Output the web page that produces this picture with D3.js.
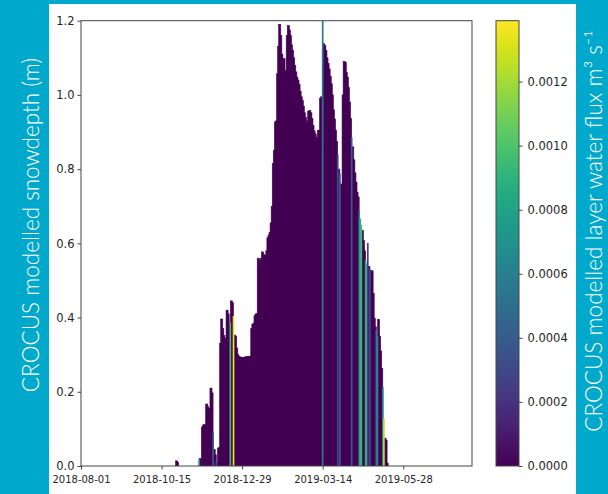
<!DOCTYPE html>
<html><head><meta charset="utf-8">
<script src="https://cdn.jsdelivr.net/npm/d3@7"></script>
<style>body{margin:0;background:#00a8cc;} svg{display:block;}</style>
</head><body>
<svg id="c" width="608" height="494"></svg>
<script>
// ---- data ----
const startDate = "2018-10-29"; // first day of the snow depth series (daily)
const snowDepth = [
 0.014,0.010,0,0,0,0,0,0,0,0,
 0,0,0,0,0,0,0,0,0,0,
 0,0.018,0.020,0,0.105,0.110,0.112,0.108,0.167,0.160,
 0.155,0.150,0.210,0.197,0.090,0.045,0.030,0.012,0.008,0.048,
 0.050,0.330,0.396,0.370,0.352,0.345,0.336,0.420,0.410,0.385,
 0.387,0.445,0.440,0.404,0.353,0.350,0.318,0.300,0.295,0.294,
 0.292,0.292,0.293,0.293,0.294,0.294,0.294,0.295,0.295,0.296,
 0.370,0.382,0.385,0.405,0.410,0.410,0.560,0.555,0.536,0.560,
 0.577,0.570,0.568,0.566,0.580,0.615,0.622,0.630,0.655,0.700,
 0.815,0.850,0.927,0.930,1.057,1.130,1.190,1.160,1.110,1.060,
 1.098,1.066,1.057,1.160,1.187,1.175,1.160,1.135,1.120,1.100,
 1.080,1.062,1.048,1.040,1.028,1.010,0.995,0.985,0.970,0.952,
 0.940,0.930,0.925,0.955,0.958,0.952,0.936,0.918,0.903,0.895,
 0.886,0.880,0.904,0.905,0.990,0.995,1.200,1.138,1.133,1.120,
 1.100,1.085,1.070,1.050,1.030,1.000,0.960,0.935,0.905,0.875,
 0.840,0.800,0.788,0.760,0.752,1.000,1.090,1.088,1.060,1.048,
 1.020,0.981,0.936,0.886,0.860,0.825,0.790,0.765,0.738,0.725,
 0.690,0.667,0.650,0.635,0.608,0.580,0.555,0.545,0.601,0.538,
 0.530,0.526,0.526,0.465,0.398,0.375,0.366,0.350,0.395,0.350,
 0.310,0.263,0.213,0.128,0.075,0.070,0.008
];
// days with non-zero layer water flux (m3 s-1); all other days are 0
const fluxDates = ["2018-11-18","2018-11-19","2018-12-02","2018-12-05","2018-12-18","2018-12-21",
  "2019-03-14","2019-03-28","2019-03-30","2019-04-10","2019-04-17","2019-04-18","2019-04-19",
  "2019-04-23","2019-04-24","2019-04-25","2019-04-27","2019-05-03","2019-05-04","2019-05-09","2019-05-10"];
const fluxValues = [0.0005,0.0007,0.0004,0.0004,0.00095,0.00135,
  0.00055,0.0003,0.0004,0.0004,0.0006,0.0009,0.00095,
  0.0009,0.0009,0.00025,0.0003,0.0006,0.0006,0.0006,0.00125];
const xTickLabels = ["2018-08-01","2018-10-15","2018-12-29","2019-03-14","2019-05-28"];
const yTicks = [0,0.2,0.4,0.6,0.8,1.0,1.2];
const cbTicks = [0,0.0002,0.0004,0.0006,0.0008,0.0010,0.0012];
const xDomain = ["2018-08-01","2019-07-31"];
const yMax = 1.2, fluxMax = 0.00139;
const yLabel = "CROCUS modelled snowdepth (m)";
const cbLabel = "CROCUS modelled layer water flux m³ s⁻¹";

// ---- build ----
const parse = d3.utcParse("%Y-%m-%d");
const fmt = d3.utcFormat("%Y-%m-%d");
const fluxMap = new Map(fluxDates.map((d,i)=>[d,fluxValues[i]]));
const data = snowDepth.map((v,i)=>{
  const date = d3.utcDay.offset(parse(startDate), i);
  return {date, depth:v, flux: fluxMap.get(fmt(date)) || 0};
});

const svg = d3.select("#c");
svg.append("rect").attr("x",49).attr("y",4).attr("width",527).attr("height",490).attr("fill","#fff");

const L=81, R=472, T=20.7, B=466;
const x = d3.scaleUtc().domain(xDomain.map(parse)).range([L,R]);
const y = d3.scaleLinear().domain([0,yMax]).range([B,T]);
const c = d3.scaleSequential(d3.interpolateViridis).domain([0,fluxMax]);
const dayW = x(parse("2018-08-02")) - x(parse("2018-08-01"));

svg.append("clipPath").attr("id","pc").append("rect").attr("x",L).attr("y",T).attr("width",R-L).attr("height",B-T);
const g = svg.append("g").attr("clip-path","url(#pc)");
const ordered = data.filter(d=>d.depth>0).sort((a,b)=>(a.flux>0)-(b.flux>0));
g.selectAll("rect.bar").data(ordered).join("rect").attr("class","bar")
  .attr("x",d=>x(d.date)-dayW/2-(d.flux>0?0.3:0.5))
  .attr("width",d=>dayW+(d.flux>0?0.6:1.0))
  .attr("y",d=>y(d.depth))
  .attr("height",d=>B-y(d.depth))
  .attr("fill",d=>c(d.flux))
  .attr("stroke",d=>d.flux>0?"none":c(d.flux))
  .attr("stroke-width",0.6);

// axes
const axCol="#444", txtCol="#262626";
const xa = svg.append("g").attr("transform",`translate(0,${B})`)
  .call(d3.axisBottom(x).tickValues(xTickLabels.map(parse)).tickFormat(fmt).tickSize(3.5).tickPadding(6.5));
xa.selectAll("text").attr("font-family","DejaVu Sans").attr("font-size",10).attr("fill",txtCol);
const ya = svg.append("g").attr("transform",`translate(${L},0)`)
  .call(d3.axisLeft(y).tickValues(yTicks).tickFormat(d3.format(".1f")).tickSize(3.5).tickPadding(3));
ya.selectAll("text").attr("font-family","DejaVu Sans").attr("font-size",11.5).attr("fill",txtCol);
[xa,ya].forEach(a=>{a.select(".domain").remove(); a.selectAll("line").attr("stroke",axCol);});
svg.append("rect").attr("x",L).attr("y",T).attr("width",R-L).attr("height",B-T)
  .attr("fill","none").attr("stroke",axCol).attr("stroke-width",1);

// colorbar
const cbL=496, cbR=519;
const cy = d3.scaleLinear().domain([0,fluxMax]).range([B,T]);
const grad = svg.append("defs").append("linearGradient").attr("id","vg")
  .attr("x1",0).attr("y1",1).attr("x2",0).attr("y2",0);
d3.range(0,1.0001,0.05).forEach(t=>grad.append("stop").attr("offset",t).attr("stop-color",d3.interpolateViridis(t)));
svg.append("rect").attr("x",cbL).attr("y",T).attr("width",cbR-cbL).attr("height",B-T)
  .attr("fill","url(#vg)").attr("stroke",axCol).attr("stroke-width",1);
const ca = svg.append("g").attr("transform",`translate(${cbR},0)`)
  .call(d3.axisRight(cy).tickValues(cbTicks).tickFormat(d3.format(".4f")).tickSize(3.5).tickPadding(5));
ca.select(".domain").remove();
ca.selectAll("line").attr("stroke",axCol);
ca.selectAll("text").attr("font-family","DejaVu Sans").attr("font-size",11.5).attr("fill",txtCol);

// side labels
svg.append("text").attr("transform","translate(39,225) rotate(-90)").attr("text-anchor","middle")
  .attr("font-family","Lato").attr("font-weight",300).attr("font-size",22.5).attr("fill","#fff").text(yLabel);
svg.append("text").attr("transform","translate(601.5,231) rotate(-90)").attr("text-anchor","middle")
  .attr("font-family","Lato").attr("font-weight",300).attr("font-size",22.5).attr("fill","#fff").text(cbLabel);
</script>
</body></html>
